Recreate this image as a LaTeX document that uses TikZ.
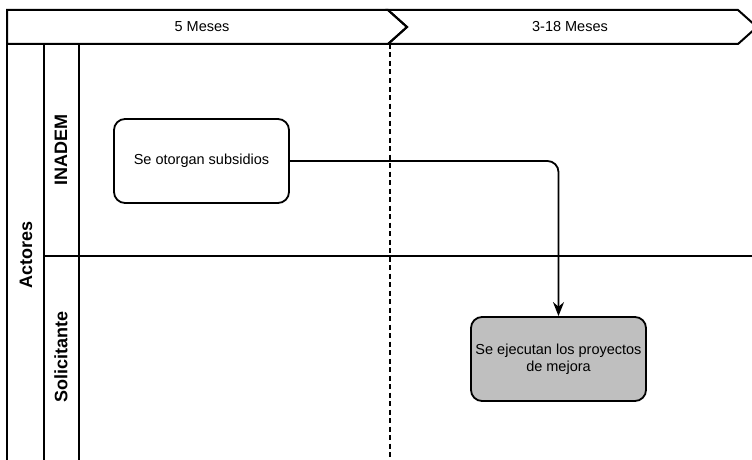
\documentclass[tikz,border=0pt]{standalone}
\usepackage{fontspec}
\setmainfont{Liberation Sans}
\usetikzlibrary{arrows.meta}

\begin{document}
\begin{tikzpicture}[
  x=1pt, y=-1pt,
  every node/.style={font=\fontsize{14.5}{17}\selectfont},
  lane/.style={line width=2pt},
  sep/.style={line width=1.4pt, dash pattern=on 5pt off 3.5pt},
  stepbox/.style={
    rectangle, rounded corners=11pt,
    minimum width=175pt, minimum height=84pt,
    align=center, draw, line width=1.8pt
  },
  grbox/.style={stepbox, fill=gray!50},
  lbl/.style={rotate=90, font=\fontsize{18}{20}\selectfont\bfseries},
  arr/.style={-{Stealth[length=14pt, width=11pt]}, line width=1.8pt, rounded corners=11pt}
]
\clip (0,0) rectangle (752,460);

% header (phases)
\draw[lane] (7,10) -- (388,10) -- (407,27) -- (388,44) -- (7,44) -- cycle;
\draw[lane] (388,10) -- (738,10) -- (757,27) -- (738,44) -- (388,44) -- (407,27) -- cycle;
\node (fase1) at (202,27) {5 Meses};
\node (fase2) at (570,27) {3-18 Meses};

% pool and lanes
\draw[lane] (7,44) -- (7,470);
\draw[lane] (44,44) -- (44,470);
\draw[lane] (79,44) -- (79,470);
\draw[lane] (44,256) -- (760,256);
\draw[sep] (390,44) -- (390,470);

\node[lbl] (actores) at (26,255) {Actores};
\node[lbl] (inadem)  at (61,150) {INADEM};
\node[lbl] (solic)   at (61,357) {Solicitante};

% steps
\node[stepbox] (subs) at (201.5,161) {Se otorgan subsidios};
\node[grbox]   (ejec) at (558.5,359) {Se ejecutan los proyectos\\de mejora};

% flow
\draw[arr] (subs.east) -| (ejec.north);

\end{tikzpicture}
\end{document}
